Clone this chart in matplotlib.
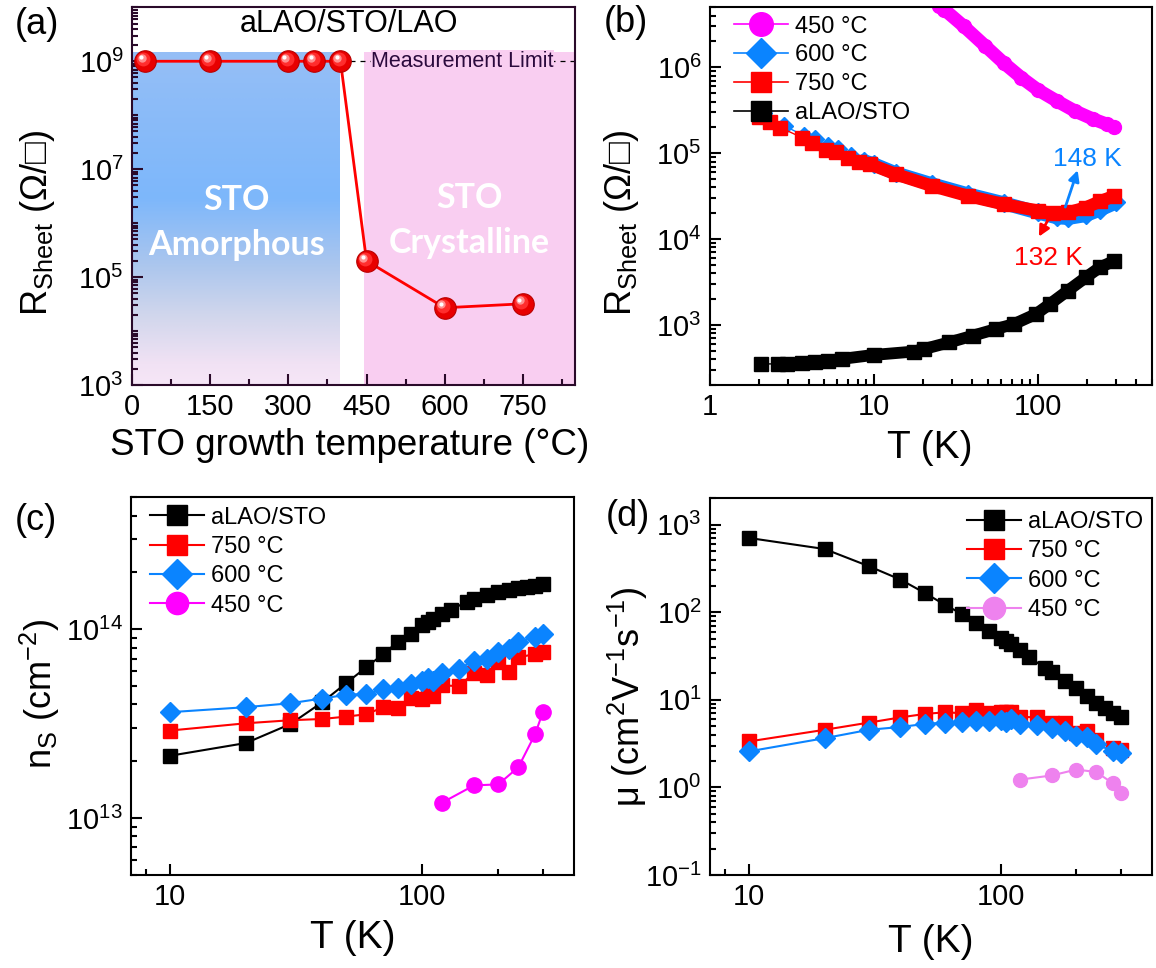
import numpy as np
import matplotlib
matplotlib.use('Agg')
import matplotlib.pyplot as plt
from matplotlib.lines import Line2D
from matplotlib.colors import LinearSegmentedColormap
import matplotlib.transforms as mtransforms
from matplotlib.ticker import (FixedLocator, LogLocator, LogFormatterMathtext,
                               NullFormatter, MultipleLocator, FuncFormatter)

plt.rcParams['font.family'] = ['Liberation Sans', 'DejaVu Sans']
plt.rcParams['mathtext.fontset'] = 'custom'
plt.rcParams['mathtext.rm'] = 'Liberation Sans'
plt.rcParams['mathtext.it'] = 'Liberation Sans:italic'
plt.rcParams['mathtext.bf'] = 'Liberation Sans:bold'
plt.rcParams['mathtext.default'] = 'regular'

# ---------------- data ----------------
# (a) sheet resistance vs STO growth temperature
growth_temp = [25, 150, 300, 350, 400, 450, 600, 750]
growth_rsheet = [1e9, 1e9, 1e9, 1e9, 1e9, 2.0e5, 2.7e4, 3.2e4]
measurement_limit = 1e9
amorphous_span = (0, 400)
crystalline_span = (445, 850)

# (b) R_sheet vs T
Tb_450 = [25, 27, 35.5, 48, 62, 79.5, 100, 131, 169, 218, 266, 294]
Rb_450 = [5.2e6, 4.7e6, 3.0e6, 1.77e6, 1.13e6, 7.6e5, 5.5e5, 4.06e5, 3.1e5, 2.5e5, 2.17e5, 2.0e5]

Tb_600 = [2.1, 2.85, 3.77, 4.38, 5.24, 6.08, 7.25, 8.67, 10, 13.6, 22.6, 37.4, 62, 100, 131, 154, 197, 240, 302]
Rb_600 = [2.97e5, 2.08e5, 1.59e5, 1.45e5, 1.2e5, 1.11e5, 9.3e4, 8.1e4, 7.45e4, 5.85e4, 4.36e4,
          3.33e4, 2.62e4, 2.04e4, 1.79e4, 1.76e4, 1.9e4, 2.2e4, 2.67e4]

Tb_750 = [2.0, 2.33, 2.69, 3.64, 4.17, 5.1, 5.84, 7.0, 8.17, 9.5, 13.6, 22.6, 37.4, 62, 100, 125, 154, 197, 240, 295]
Rb_750 = [2.67e5, 2.31e5, 1.99e5, 1.52e5, 1.31e5, 1.09e5, 1.04e5, 8.7e4, 7.9e4, 7.45e4, 5.7e4, 4.17e4,
          3.19e4, 2.55e4, 2.14e4, 2.0e4, 2.04e4, 2.33e4, 2.74e4, 3.19e4]

Tb_alao = [2.06, 2.6, 2.97, 3.67, 4.38, 5.24, 6.4, 10, 17.5, 20.4, 29, 40.3, 55.9, 72, 98, 119, 153, 197, 240, 295]
Rb_alao = [352, 352, 355, 360, 370, 380, 403, 448, 490, 526, 628, 751, 898, 1027, 1343, 1754, 2506,
           3578, 4680, 5600]

# (c) carrier density vs T
Tc_alao = [10, 20, 30, 40, 50, 60, 70, 80, 90, 100, 105, 110, 120, 130, 150, 160, 180, 200, 220, 240, 260, 280, 300]
nc_alao = [2.14e13, 2.5e13, 3.15e13, 4.1e13, 5.2e13, 6.3e13, 7.4e13, 8.6e13, 9.5e13, 1.05e14, 1.09e14,
           1.14e14, 1.21e14, 1.27e14, 1.40e14, 1.44e14, 1.52e14, 1.58e14, 1.62e14, 1.66e14, 1.68e14,
           1.70e14, 1.73e14]
Tc_750 = [10, 20, 30, 40, 50, 60, 70, 80, 90, 100, 105, 110, 120, 140, 160, 180, 200, 220, 240, 280, 300]
nc_750 = [2.91e13, 3.18e13, 3.3e13, 3.35e13, 3.45e13, 3.55e13, 3.87e13, 3.83e13, 4.33e13, 4.25e13, 4.7e13,
          4.45e13, 5.05e13, 5.0e13, 5.9e13, 5.7e13, 6.7e13, 5.95e13, 7.1e13, 7.4e13, 7.6e13]
Tc_600 = [10, 20, 30, 40, 50, 60, 70, 80, 90, 100, 105, 110, 120, 140, 160, 180, 200, 220, 240, 280, 300]
nc_600 = [3.64e13, 3.87e13, 4.06e13, 4.3e13, 4.5e13, 4.55e13, 4.8e13, 4.9e13, 5.14e13, 5.35e13, 5.5e13,
          5.35e13, 5.9e13, 6.2e13, 6.8e13, 6.97e13, 7.6e13, 7.9e13, 8.6e13, 9.1e13, 9.5e13]
Tc_450 = [120, 160, 200, 240, 280, 300]
nc_450 = [1.21e13, 1.49e13, 1.51e13, 1.86e13, 2.79e13, 3.64e13]

# (d) mobility vs T
Td_alao = [10, 20, 30, 40, 50, 60, 70, 80, 90, 100, 105, 110, 120, 130, 150, 160, 180, 200, 220, 240, 260, 280, 300]
mu_alao = [705, 527, 335, 236, 166, 122, 96, 76, 61, 51, 47, 43, 37, 31, 23, 21, 16.5, 13.6, 11.1, 9.3,
           8.0, 7.05, 6.3]
Td_750 = [10, 20, 30, 40, 50, 60, 70, 80, 90, 100, 105, 110, 120, 140, 160, 180, 200, 220, 240, 280, 300]
mu_750 = [3.35, 4.55, 5.5, 6.3, 6.9, 7.2, 7.05, 7.7, 7.05, 7.35, 7.2, 7.2, 6.4, 6.3, 5.4, 5.4, 4.2, 4.4,
          3.5, 2.8, 2.65]
Td_600 = [10, 20, 30, 40, 50, 60, 70, 80, 90, 100, 105, 110, 120, 140, 160, 180, 200, 220, 240, 280, 300]
mu_600 = [2.58, 3.65, 4.55, 4.9, 5.3, 5.5, 5.65, 5.8, 5.8, 5.95, 5.65, 6.05, 5.3, 5.2, 4.75, 4.35, 3.9,
          3.8, 3.1, 2.6, 2.44]
Td_450 = [120, 160, 200, 240, 280, 300]
mu_450 = [1.23, 1.37, 1.6, 1.5, 1.11, 0.87]

# ---------------- styling ----------------
C_BLK = '#000000'
C_RED = '#ff0000'
C_BLU = '#0a84ff'
C_MAG = '#ff00ff'
C_VIO = '#ee82ee'
FRAME_A = '#2a0a2a'
TICK_FS = 21
LABEL_FS = 28
YLABEL_FS = 26
LEG_FS = 17
PANEL_FS = 26

fig = plt.figure(figsize=(11.56, 9.68), dpi=100)
W, H = 1156.0, 968.0


def add_ax(l, t, r, b):
    return fig.add_axes([l / W, 1 - b / H, (r - l) / W, (b - t) / H])


axA = add_ax(132, 7.3, 575, 385)
axB = add_ax(710, 7.3, 1152, 385)
axC = add_ax(131, 497.3, 574.3, 875)
axD = add_ax(710, 498.3, 1152, 875)


def style_axes(ax, color='black'):
    for s in ax.spines.values():
        s.set_linewidth(1.5)
        s.set_color(color)
    ax.tick_params(which='both', direction='in', top=False, right=False,
                   labelsize=TICK_FS, width=1.5, color=color, pad=6)
    ax.tick_params(which='major', length=8)
    ax.tick_params(which='minor', length=4.5)


# ---------------- (a) ----------------
ax = axA
ax.set_yscale('log')
ax.set_xlim(0, 850)
ax.set_ylim(1e3, 1e10)
style_axes(ax, FRAME_A)

ytop_frac = (np.log10(1.5e9) - 3) / 7.0
grad_cmap = LinearSegmentedColormap.from_list('amorph', [
    (0.0, '#f6e6f7'), (0.06, '#f1e2f4'), (0.21, '#d0d6ec'), (0.36, '#abc6ee'),
    (0.56, '#7db7fb'), (0.86, '#8dbcf8'), (1.0, '#96bff6')])
grad = np.linspace(0, 1, 256).reshape(-1, 1)
blend = mtransforms.blended_transform_factory(ax.transData, ax.transAxes)
ax.imshow(grad, cmap=grad_cmap, origin='lower', aspect='auto',
          extent=(amorphous_span[0], amorphous_span[1], 0, ytop_frac),
          transform=blend, zorder=0, interpolation='bilinear')
ax.fill_between(crystalline_span, [1e3, 1e3], [1.5e9, 1.5e9], color='#f9cef1', lw=0, zorder=0)

ax.plot([amorphous_span[1], crystalline_span[1]], [measurement_limit] * 2, ls=(0, (4, 4)),
        color='black', lw=0.9, zorder=1)
ax.text(459, measurement_limit, 'Measurement Limit', fontsize=15.5, color='#2b0a3d',
        ha='left', va='center', zorder=2,
        bbox=dict(facecolor='#f9cef1', edgecolor='none', pad=0.5))

ax.plot(growth_temp, growth_rsheet, '-', color=C_RED, lw=2, zorder=3)


def offset(dx, dy):
    return ax.transData + mtransforms.ScaledTranslation(dx / 72., dy / 72., fig.dpi_scale_trans)


ax.plot(growth_temp, growth_rsheet, 'o', ms=15.5, mfc='#e80000', mec='#b80000', mew=0.8, zorder=4)
ax.plot(growth_temp, growth_rsheet, 'o', ms=10, mfc='#ff2d2d', mec='none', zorder=5, transform=offset(-1.3, 1.3))
ax.plot(growth_temp, growth_rsheet, 'o', ms=6, mfc='#ff8f8f', mec='none', zorder=6, transform=offset(-2.4, 2.4))
ax.plot(growth_temp, growth_rsheet, 'o', ms=3, mfc='white', mec='none', zorder=7, transform=offset(-2.8, 2.8))

ax.text(0.49, 0.955, 'aLAO/STO/LAO', transform=ax.transAxes, fontsize=22, ha='center', va='center')
for xx, yy, txt in [(200, 10 ** 6.43, 'STO'), (200, 10 ** 5.6, 'Amorphous'),
                    (647, 10 ** 6.47, 'STO'), (647, 10 ** 5.64, 'Crystalline')]:
    ax.text(xx, yy, txt, fontsize=24.5, fontweight='bold', color='white', ha='center',
            va='center', family='Lato')

ax.xaxis.set_major_locator(MultipleLocator(150))
ax.xaxis.set_minor_locator(MultipleLocator(75))
ax.yaxis.set_major_locator(FixedLocator([1e3, 1e5, 1e7, 1e9]))
ax.yaxis.set_minor_locator(LogLocator(base=10, subs=np.arange(1, 10), numticks=20))
ax.yaxis.set_major_formatter(LogFormatterMathtext())
ax.yaxis.set_minor_formatter(NullFormatter())
ax.set_xlabel('STO growth temperature (°C)', fontsize=26.5)
ax.set_ylabel(r'R$_{\mathrm{Sheet}}$ (Ω/□)', fontsize=YLABEL_FS)
ax.xaxis.set_label_coords(0.492, -0.115)
ax.yaxis.set_label_coords(-0.17, 0.43)

# ---------------- (b) ----------------
ax = axB
ax.set_xscale('log')
ax.set_yscale('log')
ax.set_xlim(1, 500)
ax.set_ylim(200, 5e6)
style_axes(ax)

T450 = np.array(Tb_450); R450 = np.array(Rb_450)
ax.plot(T450, R450, '-', color=C_MAG, lw=9.5, solid_capstyle='round', zorder=2)
ax.plot(T450, R450, 'o', color=C_MAG, ms=10, zorder=2)

Ta = np.array(Tb_alao); Ra = np.array(Rb_alao)
ax.plot(Ta, Ra, '-', color=C_BLK, lw=1, zorder=2)
m = Ta >= 6
ax.plot(Ta[m], Ra[m], '-', color=C_BLK, lw=8.5, solid_capstyle='butt', zorder=2)
ax.plot(Ta, Ra, 's', color=C_BLK, ms=9.5, zorder=2)

T6 = np.array(Tb_600); R6 = np.array(Rb_600)
ax.plot(T6, R6, '-', color=C_BLU, lw=1, zorder=3)
m = T6 >= 8
ax.plot(T6[m], R6[m], '-', color=C_BLU, lw=10, solid_capstyle='round', zorder=3)
ax.plot(T6, R6, 'D', color=C_BLU, ms=9, zorder=3)

T7 = np.array(Tb_750); R7 = np.array(Rb_750)
ax.plot(T7, R7, '-', color=C_RED, lw=1, zorder=4)
m = T7 >= 8
ax.plot(T7[m], R7[m], '-', color=C_RED, lw=9, solid_capstyle='round', zorder=4)
ax.plot(T7, R7, 's', color=C_RED, ms=10, zorder=4)

ax.annotate('', xy=(178, 6.8e4), xytext=(146, 2.2e4),
            arrowprops=dict(arrowstyle='-|>', color=C_BLU, lw=2, mutation_scale=16), zorder=6)
ax.text(125, 8.6e4, '148 K', color=C_BLU, fontsize=19, ha='left', va='center', zorder=6)
ax.annotate('', xy=(100, 1.0e4), xytext=(122, 2.0e4),
            arrowprops=dict(arrowstyle='-|>', color=C_RED, lw=2, mutation_scale=16), zorder=6)
ax.text(116, 6.1e3, '132 K', color=C_RED, fontsize=19, ha='center', va='center', zorder=6)

handles_b = [
    Line2D([], [], color=C_MAG, marker='o', ms=17, lw=1.2, label='450 °C'),
    Line2D([], [], color=C_BLU, marker='D', ms=15, lw=1.2, label='600 °C'),
    Line2D([], [], color=C_RED, marker='s', ms=15, lw=1.2, label='750 °C'),
    Line2D([], [], color=C_BLK, marker='s', ms=15, lw=1.2, label='aLAO/STO'),
]
ax.legend(handles=handles_b, loc='upper left', bbox_to_anchor=(0.054, 0.978), frameon=False,
          fontsize=LEG_FS, handlelength=2.3, handletextpad=0.3, labelspacing=0.29,
          borderpad=0, borderaxespad=0)

ax.xaxis.set_major_locator(LogLocator(base=10, numticks=10))
ax.xaxis.set_minor_locator(LogLocator(base=10, subs=np.arange(2, 10), numticks=20))
ax.xaxis.set_major_formatter(FuncFormatter(lambda v, p: '%g' % v))
ax.xaxis.set_minor_formatter(NullFormatter())
ax.yaxis.set_major_locator(LogLocator(base=10, numticks=20))
ax.yaxis.set_minor_locator(LogLocator(base=10, subs=np.arange(2, 10), numticks=20))
ax.yaxis.set_major_formatter(LogFormatterMathtext())
ax.yaxis.set_minor_formatter(NullFormatter())
ax.set_xlabel('T (K)', fontsize=LABEL_FS)
ax.set_ylabel(r'R$_{\mathrm{Sheet}}$ (Ω/□)', fontsize=YLABEL_FS)
ax.xaxis.set_label_coords(0.497, -0.12)
ax.yaxis.set_label_coords(-0.157, 0.43)

# ---------------- (c) ----------------
ax = axC
ax.set_xscale('log')
ax.set_yscale('log')
ax.set_xlim(7, 400)
ax.set_ylim(5e12, 5e14)
style_axes(ax)
ax.plot(Tc_alao, nc_alao, '-s', color=C_BLK, ms=10, lw=1.5, zorder=3)
ax.plot(Tc_750, nc_750, '-s', color=C_RED, ms=10, lw=1.5, zorder=3)
ax.plot(Tc_600, nc_600, '-D', color=C_BLU, ms=10.5, lw=1.5, zorder=3)
ax.plot(Tc_450, nc_450, '-o', color=C_MAG, ms=11, lw=1.5, zorder=3)
handles_c = [
    Line2D([], [], color=C_BLK, marker='s', ms=14, lw=1.5, label='aLAO/STO'),
    Line2D([], [], color=C_RED, marker='s', ms=14, lw=1.5, label='750 °C'),
    Line2D([], [], color=C_BLU, marker='D', ms=15, lw=1.5, label='600 °C'),
    Line2D([], [], color=C_MAG, marker='o', ms=16, lw=1.5, label='450 °C'),
]
ax.legend(handles=handles_c, loc='upper left', bbox_to_anchor=(0.043, 0.975), frameon=False,
          fontsize=LEG_FS, handlelength=2.3, handletextpad=0.3, labelspacing=0.31,
          borderpad=0, borderaxespad=0)
ax.xaxis.set_major_locator(FixedLocator([10, 100]))
ax.xaxis.set_minor_locator(FixedLocator([8, 200, 300]))
ax.xaxis.set_major_formatter(FuncFormatter(lambda v, p: '%g' % v))
ax.xaxis.set_minor_formatter(NullFormatter())
ax.yaxis.set_major_locator(LogLocator(base=10, numticks=20))
ax.yaxis.set_minor_locator(LogLocator(base=10, subs=np.arange(2, 10), numticks=20))
ax.yaxis.set_major_formatter(LogFormatterMathtext())
ax.yaxis.set_minor_formatter(NullFormatter())
ax.set_xlabel('T (K)', fontsize=LABEL_FS)
ax.set_ylabel(r'n$_S$ (cm$^{-2}$)', fontsize=YLABEL_FS)
ax.xaxis.set_label_coords(0.501, -0.12)
ax.yaxis.set_label_coords(-0.156, 0.479)

# ---------------- (d) ----------------
ax = axD
ax.set_xscale('log')
ax.set_yscale('log')
ax.set_xlim(7, 400)
ax.set_ylim(0.1, 2000)
style_axes(ax)
ax.plot(Td_alao, mu_alao, '-s', color=C_BLK, ms=9.5, lw=1.5, zorder=3)
ax.plot(Td_750, mu_750, '-s', color=C_RED, ms=9.5, lw=1.5, zorder=3)
ax.plot(Td_600, mu_600, '-D', color=C_BLU, ms=10.5, lw=1.5, zorder=3)
ax.plot(Td_450, mu_450, '-o', color=C_VIO, ms=10, lw=1.5, zorder=3)
handles_d = [
    Line2D([], [], color=C_BLK, marker='s', ms=14, lw=1.5, label='aLAO/STO'),
    Line2D([], [], color=C_RED, marker='s', ms=14, lw=1.5, label='750 °C'),
    Line2D([], [], color=C_BLU, marker='D', ms=15, lw=1.5, label='600 °C'),
    Line2D([], [], color=C_VIO, marker='o', ms=16, lw=1.5, label='450 °C'),
]
ax.legend(handles=handles_d, loc='upper left', bbox_to_anchor=(0.581, 0.966), frameon=False,
          fontsize=LEG_FS, handlelength=2.3, handletextpad=0.3, labelspacing=0.31,
          borderpad=0, borderaxespad=0)
ax.xaxis.set_major_locator(FixedLocator([10, 100]))
ax.xaxis.set_minor_locator(FixedLocator([8, 200, 300]))
ax.xaxis.set_major_formatter(FuncFormatter(lambda v, p: '%g' % v))
ax.xaxis.set_minor_formatter(NullFormatter())
ax.yaxis.set_major_locator(LogLocator(base=10, numticks=20))
ax.yaxis.set_minor_locator(LogLocator(base=10, subs=np.arange(2, 10), numticks=20))
ax.yaxis.set_major_formatter(LogFormatterMathtext())
ax.yaxis.set_minor_formatter(NullFormatter())
ax.set_xlabel('T (K)', fontsize=LABEL_FS)
ax.set_ylabel(r'μ (cm$^2$V$^{-1}$s$^{-1}$)', fontsize=YLABEL_FS)
ax.xaxis.set_label_coords(0.499, -0.13)
ax.yaxis.set_label_coords(-0.136, 0.473)

# panel labels
for lab, (px, py) in zip(['(a)', '(b)', '(c)', '(d)'],
                         [(37, 24), (626, 22), (36, 521), (628, 517)]):
    fig.text(px / W, 1 - py / H, lab, fontsize=PANEL_FS, ha='center', va='center')

fig.savefig('out.png', dpi=100)
